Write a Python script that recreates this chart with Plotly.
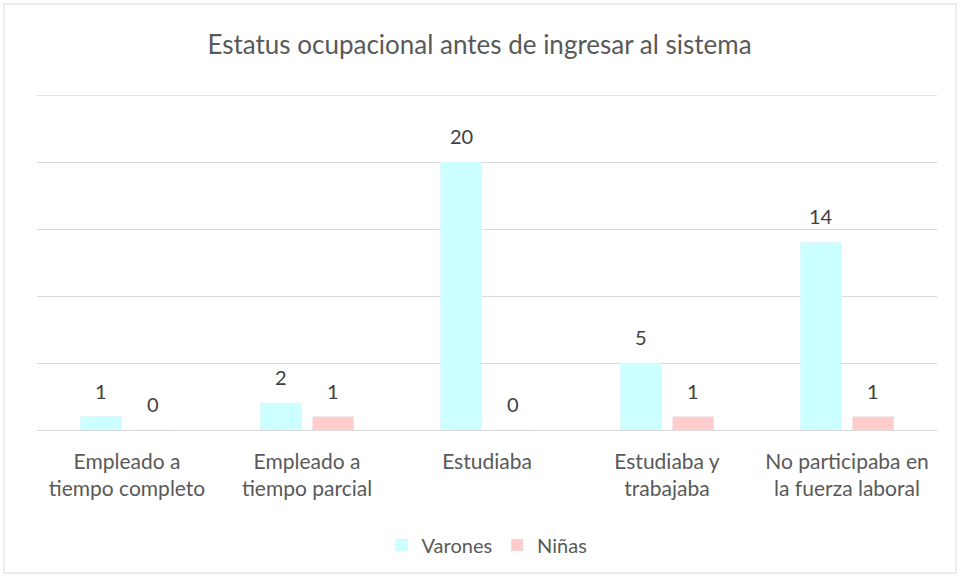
import plotly.graph_objects as go

categories = ["Empleado a<br>tiempo completo", "Empleado a<br>tiempo parcial", "Estudiaba",
              "Estudiaba y<br>trabajaba", "No participaba en<br>la fuerza laboral"]
varones = [1, 2, 20, 5, 14]
ninas = [0, 1, 0, 1, 1]

FONT = "Lato"
TXT = "#595959"
LBL = "#404040"

fig = go.Figure()
fig.add_trace(go.Bar(name="Varones", x=categories, y=varones, marker_color="#CCFFFF"))
fig.add_trace(go.Bar(name="Niñas", x=categories, y=ninas, marker_color="#FFCCCC"))

W, H = 959, 577
L, R, T, B = 37, 22, 95, 147
pw, ph = W - L - R, H - T - B

annotations = []
for series, shift in ((varones, -26), (ninas, 26)):
    for c, v in zip(categories, series):
        annotations.append(dict(x=c, y=v, xref="x", yref="y", text=str(v), showarrow=False,
                                xshift=shift, yshift=26, yanchor="middle",
                                font=dict(size=20, color=LBL, family=FONT)))

fig.update_layout(
    width=W, height=H,
    margin=dict(l=L, r=R, t=T, b=B),
    paper_bgcolor="white", plot_bgcolor="white",
    font=dict(family=FONT, color=TXT, size=21),
    title=dict(text="Estatus ocupacional antes de ingresar al sistema", x=0.5, xanchor="center",
               y=1 - 45 / H, yanchor="middle", font=dict(size=26, color=TXT, family=FONT)),
    barmode="group", bargap=0.42, bargroupgap=0.21,
    showlegend=True,
    legend=dict(orientation="h", x=0.5, xanchor="center", y=-(545 - 430) / ph, yanchor="middle",
                font=dict(size=20, color=TXT, family=FONT)),
    xaxis=dict(showgrid=False, showline=False, ticks="", ticklabelstandoff=17,
               tickfont=dict(size=21, color=TXT)),
    yaxis=dict(range=[0, 25], tickvals=[5, 10, 15, 20, 25], showgrid=True, gridcolor="#D9D9D9",
               gridwidth=1.3, showticklabels=False, zeroline=True, zerolinecolor="#D9D9D9",
               zerolinewidth=1.3, showline=False),
    annotations=annotations,
    shapes=[dict(type="rect", xref="paper", yref="paper",
                 x0=(4 - L) / pw, x1=(956 - L) / pw,
                 y0=(H - B - 573) / ph, y1=(H - B - 4) / ph,
                 line=dict(color="#D9D9D9", width=1), fillcolor="rgba(0,0,0,0)", layer="below"),
            dict(type="line", xref="paper", yref="y", x0=0, x1=1, y0=25, y1=25,
                 line=dict(color="#D9D9D9", width=1.3), layer="below")],
)

fig.write_html("out.html", config={"displayModeBar": False},
               post_script="document.body.style.margin='0';document.body.style.overflow='hidden';")
